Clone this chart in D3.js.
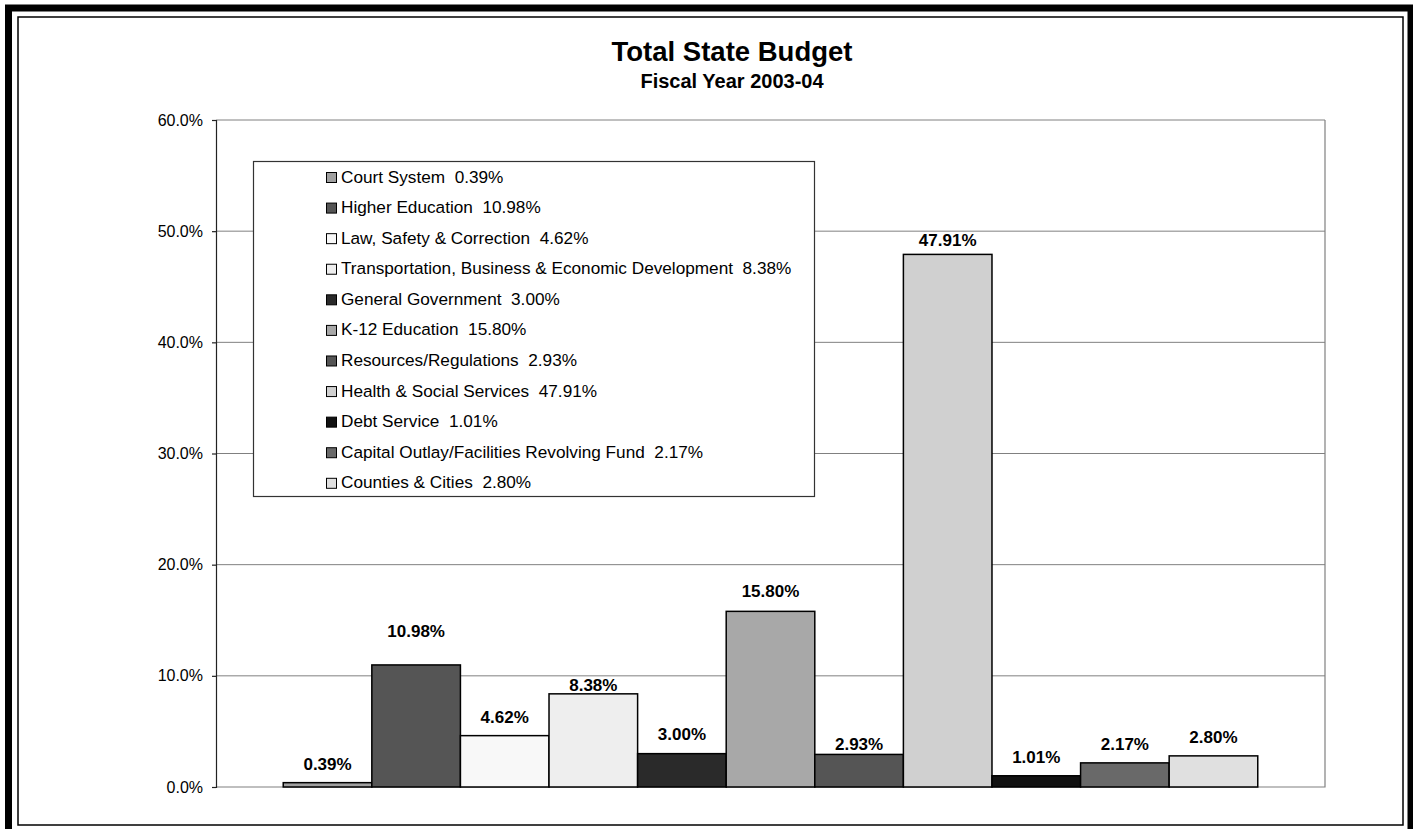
<!DOCTYPE html>
<html>
<head>
<meta charset="utf-8">
<script src="https://cdn.jsdelivr.net/npm/d3@7"></script>
<style>
  body { margin: 0; background: #fff; }
  svg { display: block; font-family: Arial, "Liberation Sans", sans-serif; }
</style>
</head>
<body>
<script>
const d3 = window.d3;

// data
const categories = [
    "Court System",
    "Higher Education",
    "Law, Safety & Correction",
    "Transportation, Business & Economic Development",
    "General Government",
    "K-12 Education",
    "Resources/Regulations",
    "Health & Social Services",
    "Debt Service",
    "Capital Outlay/Facilities Revolving Fund",
    "Counties & Cities"
];
const values = [0.39, 10.98, 4.62, 8.38, 3.00, 15.80, 2.93, 47.91, 1.01, 2.17, 2.80];
const yTicks = [0, 10, 20, 30, 40, 50, 60];
const groupName = ["FY 2003-04"];

// styles
const fills = ["#a0a0a0", "#555555", "#f8f8f8", "#eeeeee", "#2a2a2a", "#a8a8a8",
               "#555555", "#d0d0d0", "#111111", "#696969", "#e0e0e0"];
// gap between bar top and label baseline (labels were hand-nudged in the original)
const labelGap = {
    "Higher Education": 28,
    "Transportation, Business & Economic Development": 3,
    "General Government": 14,
    "K-12 Education": 14,
    "Resources/Regulations": 4.5,
    "Health & Social Services": 8
};

const W = 1413, H = 829;
const plot = {left: 216, right: 1325, top: 120, bottom: 787};

const svg = d3.select("body").append("svg")
    .attr("width", W)
    .attr("height", H);

// frame
svg.append("rect")
    .attr("x", 8.5).attr("y", 8)
    .attr("width", 1402.5).attr("height", 826)
    .attr("fill", "none").attr("stroke", "#000").attr("stroke-width", 7);
svg.append("rect")
    .attr("x", 18).attr("y", 17)
    .attr("width", 1385).attr("height", 808)
    .attr("fill", "none").attr("stroke", "#000").attr("stroke-width", 1.5);

// titles
svg.append("text")
    .attr("x", 732).attr("y", 61)
    .attr("text-anchor", "middle")
    .attr("font-size", 27.5).attr("font-weight", "bold")
    .text("Total State Budget");
svg.append("text")
    .attr("x", 732).attr("y", 88)
    .attr("text-anchor", "middle")
    .attr("font-size", 20).attr("font-weight", "bold")
    .text("Fiscal Year 2003-04");

const y = d3.scaleLinear()
    .domain([0, 60])
    .range([plot.bottom, plot.top]);

const x0 = d3.scaleBand()
    .domain(groupName)
    .range([plot.left, plot.right])
    .paddingOuter(0.069);

const x1 = d3.scaleBand()
    .domain(categories)
    .range([0, x0.bandwidth()]);

const color = d3.scaleOrdinal().domain(categories).range(fills);

// gridlines
svg.append("g")
    .selectAll("line")
    .data(yTicks.filter(t => t > 0))
    .enter()
    .append("line")
        .attr("x1", plot.left).attr("x2", plot.right)
        .attr("y1", t => y(t)).attr("y2", t => y(t))
        .attr("stroke", "#808080").attr("stroke-width", 1);

// plot border (right + bottom)
svg.append("path")
    .attr("d", `M${plot.right},${plot.top}V${plot.bottom}H${plot.left}`)
    .attr("fill", "none").attr("stroke", "#808080").attr("stroke-width", 1.2);

// y axis
const yAxis = svg.append("g")
    .attr("transform", `translate(${plot.left}, 0)`)
    .call(d3.axisLeft(y).tickValues(yTicks).tickSize(4).tickPadding(9)
        .tickFormat(d => d3.format(".1f")(d) + "%"));
yAxis.select(".domain").attr("stroke", "#222").attr("stroke-width", 1.2);
yAxis.selectAll(".tick line").attr("stroke", "#222").attr("stroke-width", 1.2);
yAxis.selectAll(".tick text")
    .attr("font-size", 16)
    .attr("font-family", "Arial, 'Liberation Sans', sans-serif")
    .attr("fill", "#000");

// bars
const bars = svg.append("g")
    .attr("transform", `translate(${x0(groupName[0])}, 0)`);

bars.selectAll("rect")
    .data(categories)
    .enter()
    .append("rect")
        .attr("x", c => x1(c))
        .attr("y", (c, i) => y(values[i]))
        .attr("width", x1.bandwidth())
        .attr("height", (c, i) => y(0) - y(values[i]))
        .attr("fill", c => color(c))
        .attr("stroke", "#000")
        .attr("stroke-width", 1.5);

bars.selectAll("text")
    .data(categories)
    .enter()
    .append("text")
        .attr("x", c => x1(c) + x1.bandwidth() / 2)
        .attr("y", (c, i) => y(values[i]) - (labelGap[c] !== undefined ? labelGap[c] : 12.5))
        .attr("text-anchor", "middle")
        .attr("font-size", 17).attr("font-weight", "bold")
        .text((c, i) => values[i].toFixed(2) + "%");

// legend
const legend = svg.append("g")
    .attr("transform", "translate(253.5, 161.5)");
legend.append("rect")
    .attr("width", 561).attr("height", 335)
    .attr("fill", "#fff")
    .attr("stroke", "#333").attr("stroke-width", 1.2);

const rowH = 30.58;
const items = legend.selectAll("g.item")
    .data(categories)
    .enter()
    .append("g")
        .attr("class", "item")
        .attr("transform", (c, i) => `translate(73, ${21 + i * rowH})`);
items.append("rect")
    .attr("x", 0).attr("y", -10)
    .attr("width", 10).attr("height", 10)
    .attr("fill", c => color(c))
    .attr("stroke", "#000").attr("stroke-width", 1);
items.append("text")
    .attr("x", 14.5).attr("y", 0)
    .attr("font-size", 17.2)
    .style("white-space", "pre")
    .text((c, i) => `${c}  ${values[i].toFixed(2)}%`);
</script>
</body>
</html>
